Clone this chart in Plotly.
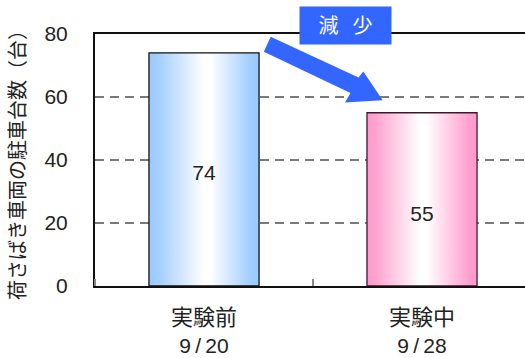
import plotly.graph_objects as go

# Survey data: parked loading/unloading vehicles
phases = ["実験前", "実験中"]
dates = ["9\u2009/\u200920", "9\u2009/\u200928"]
counts = [74, 55]
y_tick_values = [0, 20, 40, 60, 80]

# Styling
bar_width = 0.505
fill_scales = [
    [[0, "#99c9ff"], [0.08, "#a2ceff"], [0.5, "#ffffff"], [0.56, "#ffffff"], [0.93, "#9fccff"], [1, "#99c9ff"]],
    [[0, "#ff99cc"], [0.08, "#ffa3d1"], [0.48, "#ffffff"], [0.54, "#ffffff"], [0.93, "#ff9fce"], [1, "#ff99cc"]],
]
outline_colors = ["#111111", "#3a1a2a"]
label_heights = [35.2, 22.2]   # vertical placement of the value labels
accent = "#3366ff"
font_family = "Liberation Sans, Arial, Noto Sans CJK JP, sans-serif"
text_color = "#222222"

W, H = 525, 358
M_L, M_R, M_T, M_B = 95, 0, 34, 72
PW, PH = W - M_L - M_R, H - M_T - M_B
x_lo = -0.5
x_hi = x_lo + PW / 218.0


def paper(px, py):
    """Convert page pixel position into paper coordinates."""
    return (px - M_L) / PW, (H - M_B - py) / PH


tick_text = ["<span style='font-size:22px'>%s</span><br>%s" % (p, d) for p, d in zip(phases, dates)]

fig = go.Figure()

# Gradient-filled bars drawn as closed outlines
for i, v in enumerate(counts):
    x0, x1 = i - bar_width / 2, i + bar_width / 2
    fig.add_trace(go.Scatter(
        x=[x0, x0, x1, x1, x0],
        y=[0, v, v, 0, 0],
        mode="lines",
        fill="toself",
        fillgradient=dict(type="horizontal", colorscale=fill_scales[i], start=x0, stop=x1),
        line=dict(color=outline_colors[i], width=1.3),
        hoverinfo="skip",
        showlegend=False,
    ))

# Value labels
fig.add_trace(go.Scatter(
    x=list(range(len(counts))),
    y=label_heights,
    mode="text",
    text=[str(v) for v in counts],
    textfont=dict(size=21, color=text_color, family=font_family),
    hoverinfo="skip",
    showlegend=False,
))

# "Decrease" arrow
pts = [(270.7, 36.7), (358.5, 77.5), (363.3, 71.5), (382.7, 100.3),
       (345.0, 102.5), (350.5, 93.0), (263.8, 51.7)]
path = "M " + " L ".join("%.4f,%.4f" % paper(px, py) for px, py in pts) + " Z"
fig.add_shape(type="path", path=path, xref="paper", yref="paper",
              fillcolor=accent, line=dict(width=0))

bx, by = paper(345.3, 25.3)
fig.add_annotation(
    text="減\u2002\u2009少", xref="paper", yref="paper", x=bx, y=by,
    xanchor="center", yanchor="middle", showarrow=False,
    width=87, height=33, borderpad=2, bgcolor=accent,
    font=dict(size=20, color="white", family=font_family),
)

# Rotated axis title
tx, ty = paper(18, 160)
fig.add_annotation(
    text="荷さばき車両の駐車台数（台）", xref="paper", yref="paper",
    x=tx, y=ty, xanchor="center", yanchor="middle", textangle=-90,
    showarrow=False, font=dict(size=20, color=text_color, family=font_family),
)

fig.update_layout(
    width=W, height=H,
    margin=dict(l=M_L, r=M_R, t=M_T, b=M_B, pad=0),
    paper_bgcolor="white", plot_bgcolor="white",
    font=dict(family=font_family, color=text_color, size=21),
    showlegend=False,
    xaxis=dict(
        range=[x_lo, x_hi], tickvals=list(range(len(phases))), ticktext=tick_text,
        showgrid=False, zeroline=False, ticks="",
        showline=True, linecolor="#111111", linewidth=2, mirror=True,
        tickfont=dict(size=21, color=text_color), ticklabelstandoff=12,
        minor=dict(tick0=0.5, dtick=1, ticks="inside", ticklen=7, tickcolor="#888888", tickwidth=1.5, showgrid=False),
    ),
    yaxis=dict(
        range=[0, 80], tickvals=y_tick_values, ticks="",
        showgrid=True, gridcolor="#7a7a7a", gridwidth=1.8, griddash="9px,6px",
        zeroline=False, showline=True, linecolor="#111111", linewidth=2,
        tickfont=dict(size=21, color=text_color), ticklabelstandoff=21,
    ),
)

fig.write_html("out.html")
